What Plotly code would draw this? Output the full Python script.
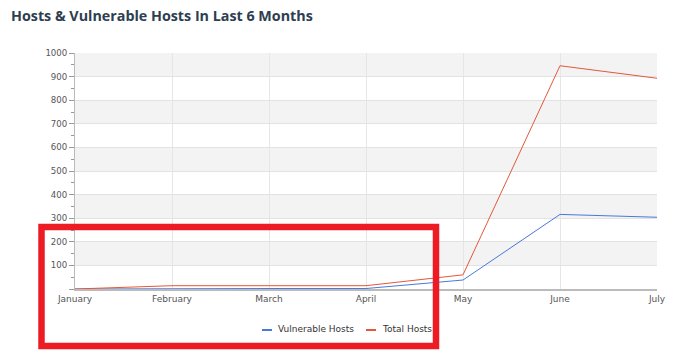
import plotly.graph_objects as go

months = ["January", "February", "March", "April", "May", "June", "July"]
vulnerable_hosts = [0, 2, 2, 2, 38, 316, 304]
total_hosts = [0, 14, 14, 14, 60, 946, 893]
series_names = ["Vulnerable Hosts", "Total Hosts"]
y_ticks = [0, 100, 200, 300, 400, 500, 600, 700, 800, 900, 1000]
y_tick_labels = ["", "100", "200", "300", "400", "500", "600", "700", "800", "900", "1000"]

BLUE = "#4a78d8"
RED = "#e4573b"
W, H = 680, 351
L, R, T, B = 75, 23, 53, 62
pw, ph = W - L - R, H - T - B


def px(x):
    return (x - L) / pw


def py(y):
    return (H - B - y) / ph


fig = go.Figure()
fig.add_trace(go.Scatter(x=months, y=vulnerable_hosts, mode="lines", name=series_names[0],
                         line=dict(color=BLUE, width=1), showlegend=False))
fig.add_trace(go.Scatter(x=months, y=total_hosts, mode="lines", name=series_names[1],
                         line=dict(color=RED, width=1), showlegend=False))

shapes = []
# alternating bands
for i in range(0, 10):
    if i % 2 == 0:
        y0 = y_ticks[9 - i]
        y1 = y_ticks[10 - i]
        shapes.append(dict(type="rect", xref="paper", yref="y", x0=0, x1=1, y0=y0, y1=y1,
                           fillcolor="#f3f3f3", line=dict(width=0), layer="below"))

# custom legend
legend_items = [(262, series_names[0], BLUE), (366, series_names[1], RED)]
annotations = []
for x0, name, col in legend_items:
    shapes.append(dict(type="line", xref="paper", yref="paper", x0=px(x0), x1=px(x0 + 10),
                       y0=py(330), y1=py(330), line=dict(color=col, width=2)))
    annotations.append(dict(xref="paper", yref="paper", x=px(x0 + 14), y=py(329), text=name,
                            showarrow=False, xanchor="left", yanchor="middle",
                            font=dict(family="DejaVu Sans", size=9, color="#333333")))

# red highlight box
shapes.append(dict(type="rect", xref="paper", yref="paper", x0=px(41.5), x1=px(436),
                   y0=py(346), y1=py(227), line=dict(color="#ed1c24", width=6.5),
                   fillcolor="rgba(0,0,0,0)", layer="above"))

annotations.append(dict(xref="paper", yref="paper", x=px(9), y=py(15),
                        text="<b>Hosts &amp; Vulnerable Hosts In Last 6 Months</b>",
                        showarrow=False, xanchor="left", yanchor="middle",
                        font=dict(family="Open Sans", size=14.3, color="#2d3e50")))

fig.update_layout(
    width=W, height=H,
    margin=dict(l=L, r=R, t=T, b=B),
    paper_bgcolor="white", plot_bgcolor="white",
    shapes=shapes, annotations=annotations,
    showlegend=False,
    xaxis=dict(type="category", range=[0, 6], showgrid=True, gridcolor="#e6e6e6", gridwidth=1,
               showline=True, linecolor="#bbbbbb", linewidth=2, ticks="", zeroline=False,
               tickfont=dict(family="DejaVu Sans", size=9, color="#555555")),
    yaxis=dict(range=[0, 1000], tickvals=y_ticks, ticktext=y_tick_labels,
               showgrid=True, gridcolor="#e2e2e2", gridwidth=1, zeroline=False,
               showline=True, linecolor="#bbbbbb", linewidth=1,
               ticks="outside", ticklen=5, tickcolor="#999999",
               minor=dict(dtick=50, ticks="outside", ticklen=3, tickcolor="#999999", showgrid=False),
               tickfont=dict(family="DejaVu Sans", size=8.6, color="#555555")),
)

fig.write_html("out.html")
